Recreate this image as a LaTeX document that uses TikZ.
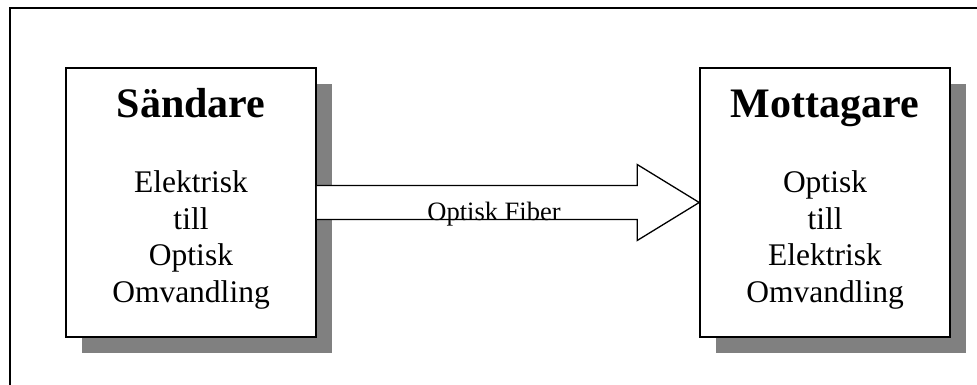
\documentclass[tikz,border=0pt]{standalone}
\usepackage{fontspec}
\setmainfont{Liberation Serif}
\usetikzlibrary{calc,shadows,positioning}

\tikzset{
  blok/.style={draw,line width=1.6pt,fill=white,minimum width=250pt,minimum height=269pt,inner sep=0pt,
    drop shadow={shadow xshift=16pt,shadow yshift=-16pt,fill=gray,opacity=1}},
  rubrik/.style={font=\fontsize{42}{42}\selectfont\bfseries,inner sep=0pt,anchor=base},
  brodtext/.style={font=\fontsize{31.5}{36.5}\selectfont,align=center,inner sep=0pt,anchor=north},
  fiber/.style={draw,line width=1.3pt,fill=white,line join=miter},
  fibertext/.style={font=\fontsize{26.5}{26.5}\selectfont,inner sep=0pt,anchor=base}
}

\begin{document}
\begin{tikzpicture}[x=1pt,y=-1pt]
\useasboundingbox (0,0) rectangle (977,385);
\draw[line width=1.8pt] (10,400) -- (10,8) -- (990,8);
\begin{scope}
\node[blok] (sand) at (191,202.5) {};
\node[blok] (mott) at (825,202.5) {};
\end{scope}
\node[rubrik] (sandtitel) at ([yshift=-50pt]sand.north) {Sändare};
\node[brodtext] (sandtext) at ([yshift=-103.5pt]sand.north) {Elektrisk\\till\\Optisk\\Omvandling};
\node[rubrik] (motttitel) at ([yshift=-50pt]mott.north) {Mottagare};
\node[brodtext] (motttext) at ([yshift=-103.5pt]mott.north) {Optisk\\till\\Elektrisk\\Omvandling};
\draw[fiber] ([yshift=17pt]sand.east) -- ([xshift=-62pt,yshift=17pt]mott.west)
  -- ([xshift=-62pt,yshift=38pt]mott.west) -- (mott.west)
  -- ([xshift=-62pt,yshift=-38pt]mott.west) -- ([xshift=-62pt,yshift=-17pt]mott.west)
  -- ([yshift=-17pt]sand.east);
\node[fibertext] (fibertitel) at (494,220) {Optisk Fiber};
\end{tikzpicture}
\end{document}
